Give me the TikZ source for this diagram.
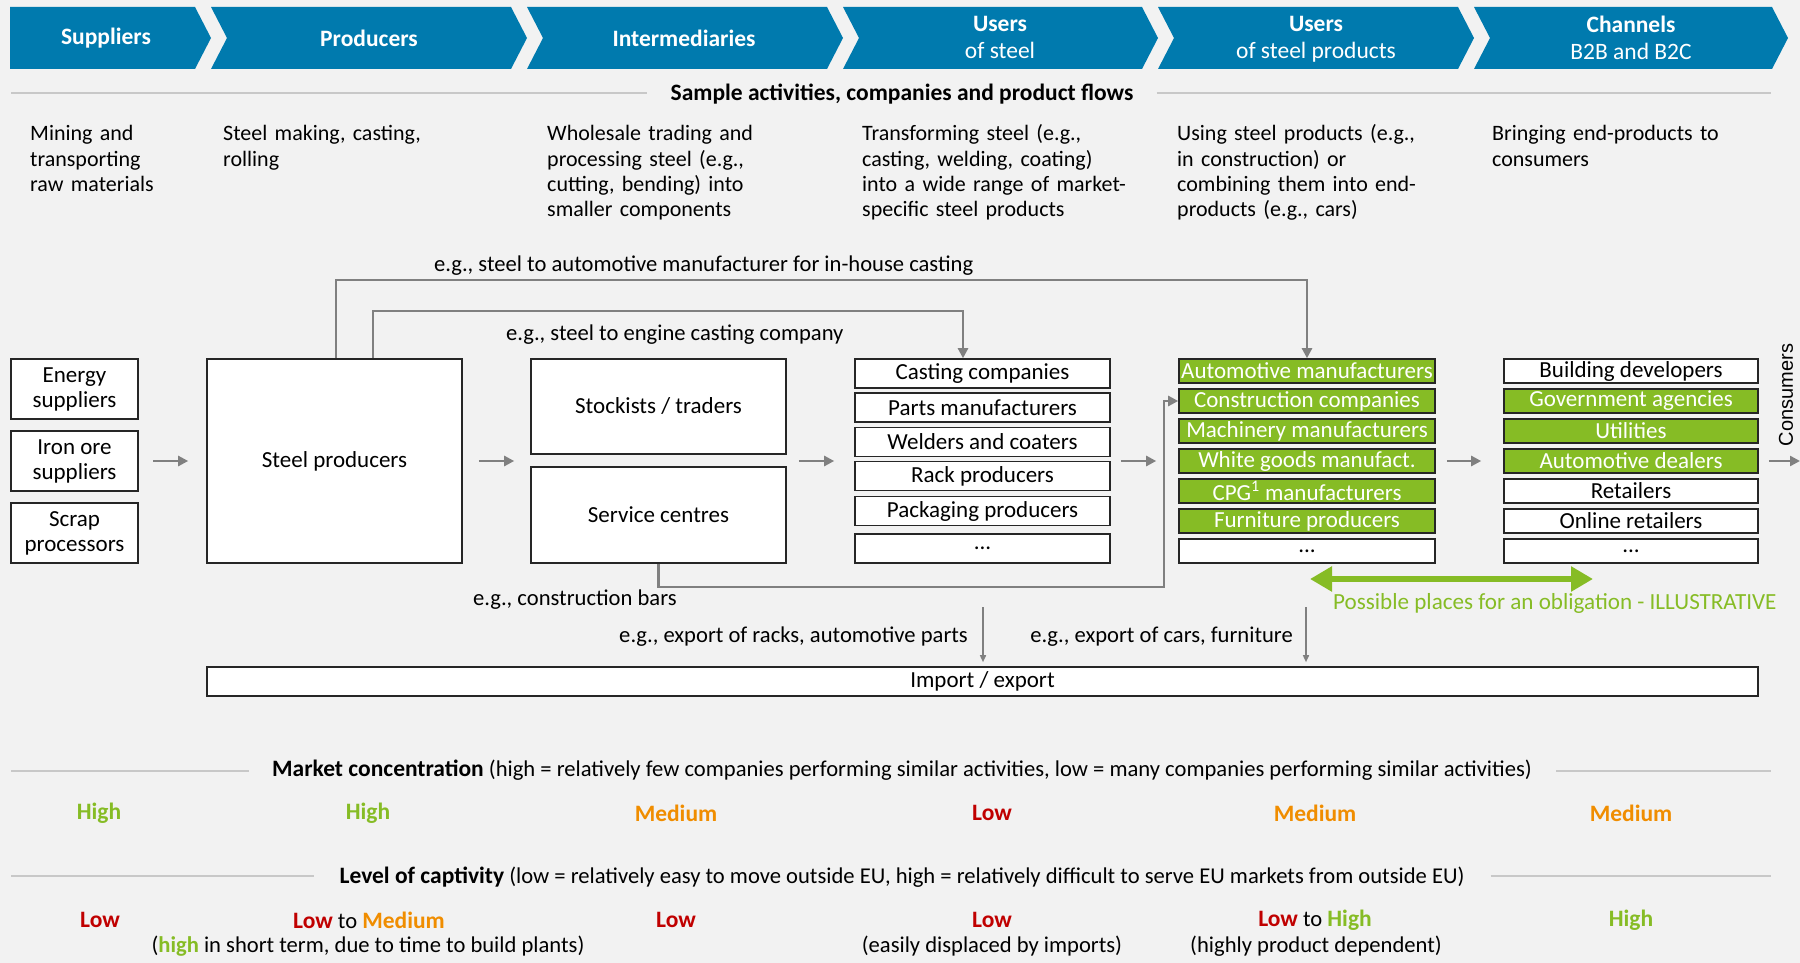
\documentclass[tikz,border=0pt]{standalone}
\usepackage{fontspec}
\setmainfont{Carlito}
\newfontfamily\consfont{Liberation Sans}
\usetikzlibrary{arrows.meta,calc}
\definecolor{bgc}{RGB}{242,242,242}
\definecolor{hdr}{RGB}{0,122,174}
\definecolor{grn}{RGB}{134,188,37}
\definecolor{org}{RGB}{240,141,0}
\definecolor{redc}{RGB}{192,0,0}
\definecolor{conn}{RGB}{128,128,128}
\definecolor{hlc}{RGB}{200,200,200}
\definecolor{boxc}{RGB}{38,38,38}
\newcommand{\fsz}{\fontsize{22}{25.3}\selectfont}
\newcommand{\fbx}{\fontsize{23}{25}\selectfont}
\newcommand{\flb}{\fontsize{22.6}{26}\selectfont}
\newcommand{\fhd}{\fontsize{23.5}{27}\selectfont}
\newcommand{\fbb}{\fontsize{23.5}{26}\selectfont\bfseries}
\begin{document}
\begin{tikzpicture}[x=1pt,y=-1pt,
  box/.style={draw=boxc,line width=1.6pt,fill=white,inner sep=0pt,font=\fbx,align=center},
  gbox/.style={box,fill=grn,text=white},
  sbox/.style={box,minimum width=127.5pt,minimum height=60pt},
  ubox/.style={box,minimum width=255pt,minimum height=29pt},
  pbox/.style={box,minimum width=256pt,minimum height=24pt},
  pgbox/.style={gbox,minimum width=256pt,minimum height=24pt},
  cbox/.style={box,minimum width=254pt,minimum height=24pt},
  cgbox/.style={gbox,minimum width=254pt,minimum height=24pt},
  txt/.style={inner sep=0pt,font=\flb},
  htxt/.style={inner sep=0pt,font=\fhd,text=white,align=center},
  desc/.style={inner sep=0pt,font=\fsz,anchor=base west,text width=330pt,align=left},
  val/.style={txt,font=\fbb},
  arr/.style={draw=conn,line width=2.4pt,-{Triangle[length=10pt,width=10pt]}},
  thinarr/.style={draw=conn,line width=1.5pt,-{Triangle[length=7pt,width=6pt]}},
  garr/.style={draw=grn,line width=6pt,{Triangle[length=22pt,width=24pt]}-{Triangle[length=22pt,width=24pt]}},
  hline/.style={draw=hlc,line width=2pt}]
\fill[bgc] (0,0) rectangle (1800,963);
\useasboundingbox (0,0) rectangle (1800,963);

% header chevrons
\fill[hdr] (10,7) -- (195,7) -- (211,38) -- (195,69) -- (10,69) -- cycle;
\foreach \L/\R in {211/511,527/827,843/1142,1158/1458,1474/1772}{
  \fill[hdr] (\L,7) -- (\R,7) -- (\R+16,38) -- (\R,69) -- (\L,69) -- (\L+16,38) -- cycle;
}
\node[htxt] (h1) at (106,38) {\bfseries Suppliers};
\node[htxt] (h2) at (369,38) {\bfseries Producers};
\node[htxt] (h3) at (684,38) {\bfseries Intermediaries};
\node[htxt] (h4) at (1000,39.5) {\bfseries Users\\of steel\vphantom{p}};
\node[htxt] (h5) at (1316,39.5) {\bfseries Users\\of steel products};
\node[htxt] (h6) at (1631,39.5) {\bfseries Channels\\B2B and B2C\vphantom{p}};

% sample heading
\node[txt,font=\fbb] (sample) at (902,94) {Sample activities, companies and product flows};
\draw[hline,shorten >=23pt] (11,93) -- (sample.west |- 0,93);
\draw[hline,shorten <=23pt] (sample.east |- 0,93) -- (1771,93);

% descriptions
\node[desc] (d1) at (30,141) {Mining and\\transporting\\raw materials};
\node[desc] (d2) at (223,141) {Steel making, casting,\\rolling};
\node[desc] (d3) at (547,141) {Wholesale trading and\\processing steel (e.g.,\\cutting, bending) into\\smaller components};
\node[desc] (d4) at (862,141) {Transforming steel (e.g.,\\casting, welding, coating)\\into a wide range of market-\\specific steel products};
\node[desc] (d5) at (1177,141) {Using steel products (e.g.,\\in construction) or\\combining them into end-\\products (e.g., cars)};
\node[desc] (d6) at (1492,141) {Bringing end-products to\\consumers};

% suppliers
\node[sbox] (energy) at (74.5,389) {Energy\\suppliers};
\node[sbox] (ironore) at (74.5,461) {Iron ore\\suppliers};
\node[sbox] (scrap) at (74.5,533) {Scrap\\processors};
% producers
\node[box,minimum width=255pt,minimum height=204pt] (prod) at (334.5,461) {Steel producers};
% intermediaries
\node[box,minimum width=255pt,minimum height=95pt] (stock) at (658.5,406.5) {Stockists / traders};
\node[box,minimum width=255pt,minimum height=96pt] (serv) at (658.5,515) {Service centres};
% users of steel
\node[ubox] (cast) at (982.5,373.5) {Casting companies};
\node[ubox] (parts) at (982.5,407.5) {Parts manufacturers};
\node[ubox] (weld) at (982.5,442) {Welders and coaters};
\node[ubox] (rack) at (982.5,476) {Rack producers};
\node[ubox] (pack) at (982.5,511) {Packaging producers};
\node[ubox] (udots) at (982.5,548.5) {...};
% users of steel products
\node[pgbox] (auto) at (1307,371) {Automotive manufacturers};
\node[pgbox] (constr) at (1307,401) {Construction companies};
\node[pgbox] (mach) at (1307,431) {Machinery manufacturers};
\node[pgbox] (white) at (1307,461) {White goods manufact.};
\node[pgbox] (cpg) at (1307,491) {CPG\textsuperscript{1} manufacturers};
\node[pgbox] (furn) at (1307,521) {Furniture producers};
\node[pbox] (pdots) at (1307,551) {...};
% channels
\node[cbox] (build) at (1631,371) {Building developers};
\node[cgbox] (gov) at (1631,401) {Government agencies};
\node[cgbox] (util) at (1631,431) {Utilities};
\node[cgbox] (dealer) at (1631,461) {Automotive dealers};
\node[cbox] (retail) at (1631,491) {Retailers};
\node[cbox] (online) at (1631,521) {Online retailers};
\node[cbox] (cdots) at (1631,551) {...};
% consumers
\node[rotate=90,inner sep=0pt,font=\consfont\fontsize{20}{24}\selectfont] (cons) at (1786,395) {Consumers};
\coordinate (consend) at (1800,461);
% import / export
\node[box,minimum width=1551pt,minimum height=29pt] (imex) at (982.5,681.5) {Import / export};

% flow arrows
\draw[arr,shorten <=14pt,shorten >=18pt] (ironore.east) -- (prod.west);
\draw[arr,shorten <=16pt,shorten >=16pt] (prod.east) -- (prod.east -| stock.west);
\draw[arr,shorten <=12pt,shorten >=20pt] (prod.east -| stock.east) -- (prod.east -| rack.west);
\draw[arr,shorten <=10pt,shorten >=22pt] (prod.east -| rack.east) -- (white.west);
\draw[arr,shorten <=11pt,shorten >=22pt] (white.east) -- (dealer.west);
\draw[arr,shorten <=10pt] (dealer.east) -- (consend);

% bypass routes
\draw[arr] ($(prod.north)+(1.5,0)$) -- ++(0,-78) -| (auto.north);
\draw[arr] ($(prod.north)+(38.5,0)$) -- ++(0,-47) -| ($(cast.north)+(-19.5,0)$);
\draw[arr] (serv.south) -- ++(0,23) -| ($(constr.west)+(-14,0)$) -- (constr.west);

% export arrows
\coordinate (ex1) at (983,607);
\coordinate (ex2) at (1306,607);
\draw[thinarr,shorten >=4pt] (ex1) -- (ex1 |- imex.north);
\draw[thinarr,shorten >=4pt] (ex2) -- (ex2 |- imex.north);

% obligation arrow
\coordinate (g1) at (1310,579);
\coordinate (g2) at (1593,579);
\draw[garr] (g1) -- (g2);

% labels
\node[txt,anchor=west] (lauto) at (434,266) {e.g., steel to automotive manufacturer for in-house casting};
\node[txt,anchor=west] (leng) at (506,335) {e.g., steel to engine casting company};
\node[txt,anchor=west] (lcons) at (473,600) {e.g., construction bars};
\node[txt,anchor=east] (lex1) at (968,637) {e.g., export of racks, automotive parts};
\node[txt,anchor=east] (lex2) at (1293,637) {e.g., export of cars, furniture};
\node[txt,anchor=west,text=grn,font=\fontsize{23.1}{26}\selectfont] (lobl) at (1333,603) {Possible places for an obligation - ILLUSTRATIVE};

% market concentration
\node[txt] (mc) at (902,770) {{\fbb Market concentration} (high = relatively few companies performing similar activities, low = many companies performing similar activities)};
\draw[hline,shorten >=23pt] (11,771) -- (mc.west |- 0,771);
\draw[hline,shorten <=24pt] (mc.east |- 0,771) -- (1771,771);
\node[val,text=grn] (mc1) at (99,813) {High};
\node[val,text=grn] (mc2) at (368,813) {High};
\node[val,text=org] (mc3) at (676,813) {Medium};
\node[val,text=redc] (mc4) at (992,813) {Low};
\node[val,text=org] (mc5) at (1315,813) {Medium};
\node[val,text=org] (mc6) at (1631,813) {Medium};

% captivity
\node[txt] (cap) at (902,877) {{\fbb Level of captivity} (low = relatively easy to move outside EU, high = relatively difficult to serve EU markets from outside EU)};
\draw[hline,shorten >=25pt] (11,876) -- (cap.west |- 0,876);
\draw[hline,shorten <=26pt] (cap.east |- 0,876) -- (1771,876);
\node[val,text=redc] (cp1) at (100,920) {Low};
\node[txt] (cp2) at (369,920) {{\fbb\color{redc}Low} to {\fbb\color{org}Medium}};
\node[val,text=redc] (cp3) at (676,920) {Low};
\node[val,text=redc] (cp4) at (992,920) {Low};
\node[txt] (cp5) at (1315,920) {{\fbb\color{redc}Low} to {\fbb\color{grn}High}};
\node[val,text=grn] (cp6) at (1631,920) {High};
\node[txt] (ex2t) at (368,946) {({\bfseries\color{grn}high} in short term, due to time to build plants)};
\node[txt] (ex4t) at (992,946) {(easily displaced by imports)};
\node[txt] (ex5t) at (1316,946) {(highly product dependent)};
\end{tikzpicture}
\end{document}
